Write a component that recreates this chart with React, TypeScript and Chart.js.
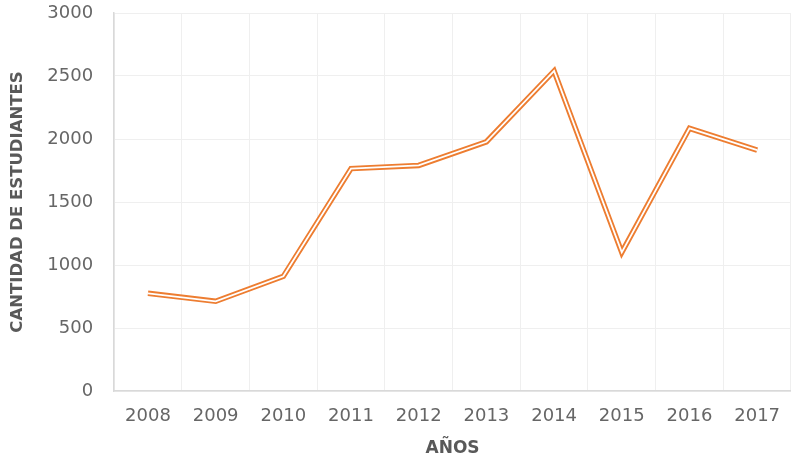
import React, { useEffect, useRef } from "react";
import { Chart, registerables } from "chart.js";

Chart.register(...registerables);

const years = ["2008", "2009", "2010", "2011", "2012", "2013", "2014", "2015", "2016", "2017"];
const students = [775, 712, 910, 1765, 1790, 1978, 2540, 1100, 2085, 1912];
const yTicks = [0, 500, 1000, 1500, 2000, 2500, 3000];

const FONT = "'DejaVu Sans', sans-serif";
const GRAY = "#595959";
const TICK_GRAY = "#666666";

export default function App() {
  const ref = useRef<HTMLCanvasElement | null>(null);
  useEffect(() => {
    if (!ref.current) return;
    const chart = new Chart(ref.current, {
      type: "line",
      data: {
        labels: years,
        datasets: [
          {
            data: students,
            borderColor: "#ffffff",
            borderWidth: 1.8,
            pointRadius: 0,
            tension: 0,
            borderJoinStyle: "miter",
          },
          {
            data: students,
            borderColor: "#ED7D31",
            borderWidth: 5.5,
            pointRadius: 0,
            tension: 0,
            borderJoinStyle: "miter",
          },
        ],
      },
      options: {
        animation: false,
        responsive: false,
        layout: { padding: { top: 13, right: 0, left: 8, bottom: 1 } },
        plugins: { legend: { display: false }, tooltip: { enabled: false } },
        scales: {
          x: {
            offset: true,
            grid: {
              color: "#efefef",
              offset: true,
              drawTicks: true,
              tickLength: 15,
              tickColor: "rgba(0,0,0,0)",
            },
            border: { color: "#d9d9d9", width: 1.5 },
            ticks: { color: TICK_GRAY, font: { family: FONT, size: 18 }, padding: 0 },
            title: {
              display: true,
              text: "AÑOS",
              color: GRAY,
              font: { family: FONT, size: 17, weight: "bold" },
              padding: { top: 11, bottom: 0 },
            },
          },
          y: {
            min: 0,
            max: 3000,
            afterBuildTicks: (axis: any) => {
              axis.ticks = yTicks.map((v) => ({ value: v }));
            },
            grid: {
              color: "#efefef",
              drawTicks: true,
              tickLength: 19,
              tickColor: "rgba(0,0,0,0)",
            },
            border: { color: "#d9d9d9", width: 1.5 },
            ticks: {
              color: TICK_GRAY,
              font: { family: FONT, size: 18 },
              padding: 2,
              callback: (v: any) => String(v),
            },
            title: {
              display: true,
              text: "CANTIDAD DE ESTUDIANTES",
              color: GRAY,
              font: { family: FONT, size: 16.5, weight: "bold" },
              padding: { top: 0, bottom: 17.5 },
            },
          },
        },
      },
    });
    return () => chart.destroy();
  }, []);
  return (
    <div style={{ position: "fixed", left: 0, top: 0, width: 791, height: 460, background: "#fff" }}>
      <canvas ref={ref} width={791} height={460} />
    </div>
  );
}
